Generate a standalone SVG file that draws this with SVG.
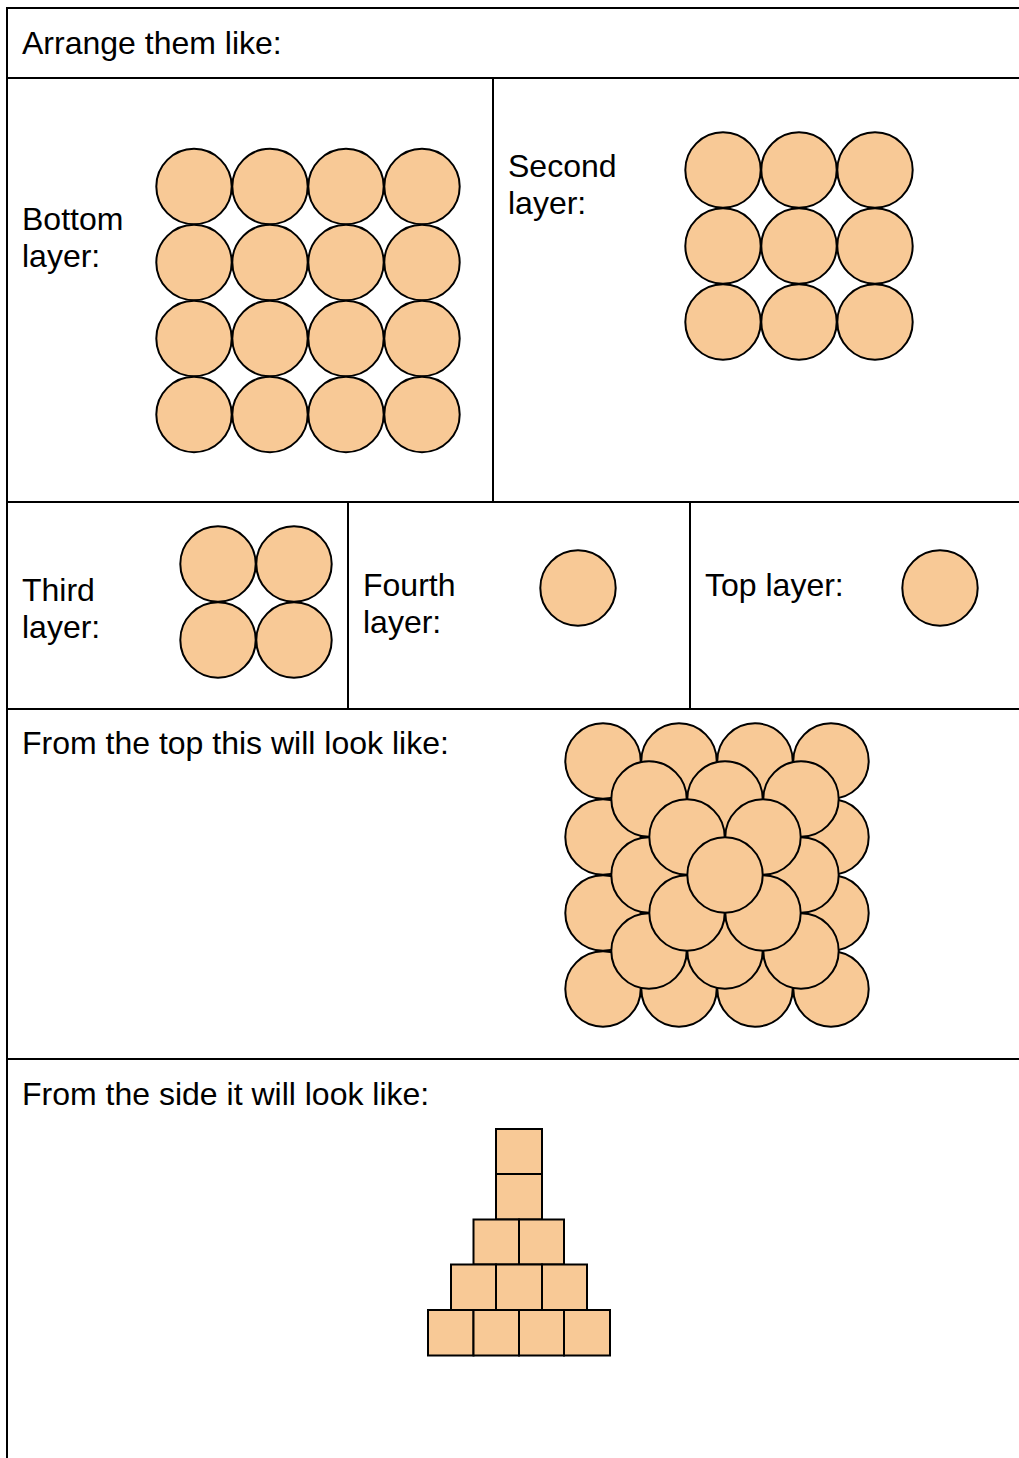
<svg xmlns="http://www.w3.org/2000/svg" width="1019" height="1458" viewBox="0 0 1019 1458">
<style>
.t{font-family:"Liberation Sans",Arial,sans-serif;font-size:32px;fill:#000}
.g line{stroke:#000;stroke-width:2}
.b circle{fill:#f8c996;stroke:#000;stroke-width:2}
.s rect{fill:#f8c996;stroke:#000;stroke-width:2}
</style>
<rect width="1019" height="1458" fill="#fff"/>
<g id="grid" class="g">
<line x1="7" y1="8" x2="1019" y2="8"/>
<line x1="7" y1="78" x2="1019" y2="78"/>
<line x1="7" y1="502" x2="1019" y2="502"/>
<line x1="7" y1="709" x2="1019" y2="709"/>
<line x1="7" y1="1059" x2="1019" y2="1059"/>
<line x1="7" y1="7" x2="7" y2="1458"/>
<line x1="493" y1="78" x2="493" y2="502"/>
<line x1="348" y1="502" x2="348" y2="709"/>
<line x1="690" y1="502" x2="690" y2="709"/>
</g>
<g id="header"><text class="t" x="22" y="54">Arrange them like:</text></g>
<g id="bottom-layer">
<text class="t" x="22" y="230">Bottom</text>
<text class="t" x="22" y="267">layer:</text>
<g class="b">
<circle cx="194" cy="186.5" r="37.7"/><circle cx="270" cy="186.5" r="37.7"/><circle cx="346" cy="186.5" r="37.7"/><circle cx="422" cy="186.5" r="37.7"/>
<circle cx="194" cy="262.5" r="37.7"/><circle cx="270" cy="262.5" r="37.7"/><circle cx="346" cy="262.5" r="37.7"/><circle cx="422" cy="262.5" r="37.7"/>
<circle cx="194" cy="338.5" r="37.7"/><circle cx="270" cy="338.5" r="37.7"/><circle cx="346" cy="338.5" r="37.7"/><circle cx="422" cy="338.5" r="37.7"/>
<circle cx="194" cy="414.5" r="37.7"/><circle cx="270" cy="414.5" r="37.7"/><circle cx="346" cy="414.5" r="37.7"/><circle cx="422" cy="414.5" r="37.7"/>
</g>
</g>
<g id="second-layer">
<text class="t" x="508" y="177">Second</text>
<text class="t" x="508" y="214">layer:</text>
<g class="b">
<circle cx="723" cy="170" r="37.7"/><circle cx="799" cy="170" r="37.7"/><circle cx="875" cy="170" r="37.7"/>
<circle cx="723" cy="246" r="37.7"/><circle cx="799" cy="246" r="37.7"/><circle cx="875" cy="246" r="37.7"/>
<circle cx="723" cy="322" r="37.7"/><circle cx="799" cy="322" r="37.7"/><circle cx="875" cy="322" r="37.7"/>
</g>
</g>
<g id="third-layer">
<text class="t" x="22" y="601">Third</text>
<text class="t" x="22" y="638">layer:</text>
<g class="b">
<circle cx="218" cy="564" r="37.7"/><circle cx="294" cy="564" r="37.7"/>
<circle cx="218" cy="640" r="37.7"/><circle cx="294" cy="640" r="37.7"/>
</g>
</g>
<g id="fourth-layer">
<text class="t" x="363" y="596">Fourth</text>
<text class="t" x="363" y="633">layer:</text>
<g class="b"><circle cx="578" cy="588" r="37.7"/></g>
</g>
<g id="top-layer">
<text class="t" x="705" y="596">Top layer:</text>
<g class="b"><circle cx="940" cy="588" r="37.7"/></g>
</g>
<g id="top-view">
<text class="t" x="22" y="754">From the top this will look like:</text>
<g class="b">
<circle cx="603" cy="761" r="37.7"/><circle cx="679" cy="761" r="37.7"/><circle cx="755" cy="761" r="37.7"/><circle cx="831" cy="761" r="37.7"/>
<circle cx="603" cy="837" r="37.7"/><circle cx="679" cy="837" r="37.7"/><circle cx="755" cy="837" r="37.7"/><circle cx="831" cy="837" r="37.7"/>
<circle cx="603" cy="913" r="37.7"/><circle cx="679" cy="913" r="37.7"/><circle cx="755" cy="913" r="37.7"/><circle cx="831" cy="913" r="37.7"/>
<circle cx="603" cy="989" r="37.7"/><circle cx="679" cy="989" r="37.7"/><circle cx="755" cy="989" r="37.7"/><circle cx="831" cy="989" r="37.7"/>
<circle cx="649" cy="799" r="37.7"/><circle cx="725" cy="799" r="37.7"/><circle cx="801" cy="799" r="37.7"/>
<circle cx="649" cy="875" r="37.7"/><circle cx="725" cy="875" r="37.7"/><circle cx="801" cy="875" r="37.7"/>
<circle cx="649" cy="951" r="37.7"/><circle cx="725" cy="951" r="37.7"/><circle cx="801" cy="951" r="37.7"/>
<circle cx="687" cy="837" r="37.7"/><circle cx="763" cy="837" r="37.7"/>
<circle cx="687" cy="913" r="37.7"/><circle cx="763" cy="913" r="37.7"/>
<circle cx="725" cy="875" r="37.7"/>
</g>
</g>
<g id="side-view">
<text class="t" x="22" y="1105">From the side it will look like:</text>
<g class="s">
<rect x="496" y="1129" width="46" height="45"/>
<rect x="496" y="1174" width="46" height="45.5"/>
<rect x="473.5" y="1219.5" width="45.5" height="45"/><rect x="519" y="1219.5" width="45" height="45"/>
<rect x="451" y="1264.5" width="45" height="45.5"/><rect x="496" y="1264.5" width="46" height="45.5"/><rect x="542" y="1264.5" width="45" height="45.5"/>
<rect x="428" y="1310" width="45.5" height="45.5"/><rect x="473.5" y="1310" width="45.5" height="45.5"/><rect x="519" y="1310" width="45" height="45.5"/><rect x="564" y="1310" width="46" height="45.5"/>
</g>
</g>
</svg>
